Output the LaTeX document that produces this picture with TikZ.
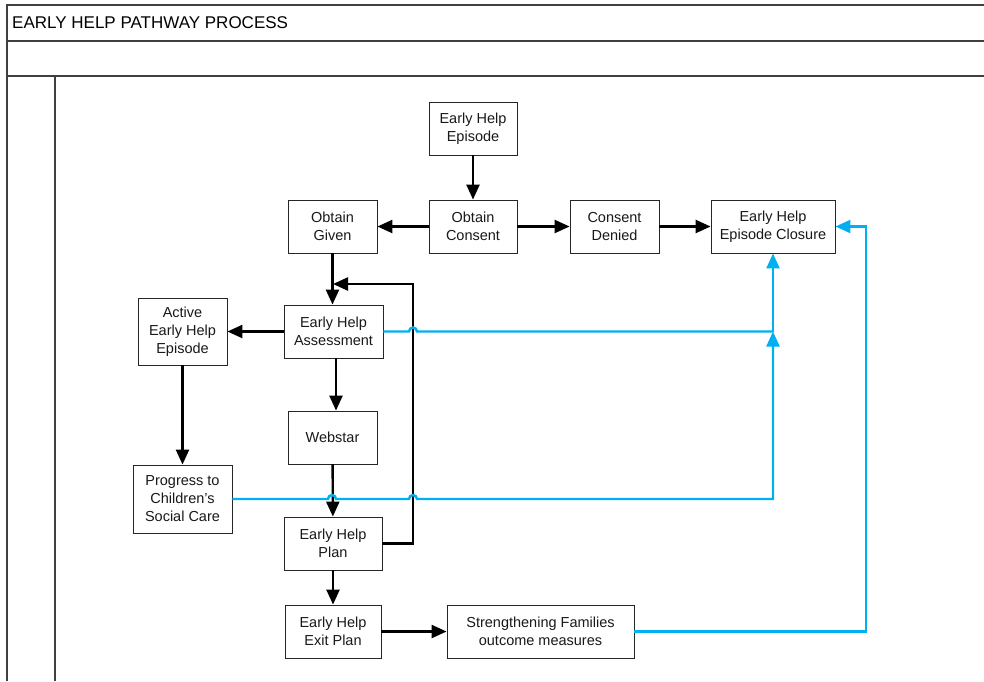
\documentclass[tikz,border=0pt]{standalone}
\usepackage{fontspec}
\setmainfont{Liberation Sans}
\usetikzlibrary{arrows.meta}
\definecolor{hblue}{RGB}{0,176,240}
\tikzset{
  box/.style={draw=black!85, line width=0.9pt, fill=white, align=center, inner sep=0pt,
    font=\fontsize{14.5}{18}\selectfont, text=black!90},
  arr/.style={line width=2.4pt, -{Triangle[length=15pt,width=13pt]}},
  bline/.style={draw=hblue, line width=2.4pt},
  barr/.style={bline, -{Triangle[length=15pt,width=13pt]}},
  frame/.style={draw=black!75, line width=1.5pt}
}
\begin{document}
\begin{tikzpicture}[x=1pt,y=-1pt]
\useasboundingbox (0,0) rectangle (984,681);
% frame
\draw[frame] (984,5) -- (7,5) -- (7,681);
\draw[frame] (7,41) -- (984,41);
\draw[frame] (7,76) -- (984,76);
\draw[frame] (55,76) -- (55,681);
\node[anchor=west, font=\fontsize{17}{20}\selectfont, inner sep=0pt] (title) at (12,23) {EARLY HELP PATHWAY PROCESS};
% nodes
\node[box, minimum width=88pt, minimum height=53pt] (ep) at (473,128.5) {Early Help\\Episode};
\node[box, minimum width=88pt, minimum height=53pt] (oc) at (473,226.5) {Obtain\\Consent};
\node[box, minimum width=89pt, minimum height=53pt] (og) at (332.5,226.5) {Obtain\\Given};
\node[box, minimum width=89pt, minimum height=53pt] (cd) at (614.5,226.5) {Consent\\Denied};
\node[box, minimum width=124pt, minimum height=53pt] (cl) at (773,226.5) {Early Help\\Episode Closure};
\node[box, minimum width=99pt, minimum height=53pt] (as) at (333.5,331.5) {Early Help\\Assessment};
\node[box, minimum width=89pt, minimum height=67pt] (ac) at (182.5,331.5) {Active\\Early Help\\Episode};
\node[box, minimum width=89pt, minimum height=53pt] (wb) at (332.5,437.5) {Webstar};
\node[box, minimum width=99pt, minimum height=68pt] (pr) at (182.5,499) {Progress to\\Children’s\\Social Care};
\node[box, minimum width=98pt, minimum height=53pt] (pl) at (333,543.5) {Early Help\\Plan};
\node[box, minimum width=96pt, minimum height=53pt] (ex) at (333,631.5) {Early Help\\Exit Plan};
\node[box, minimum width=187pt, minimum height=53pt] (sf) at (540.5,631.5) {Strengthening Families\\outcome measures};
% coordinates
\coordinate (fb) at (333,284);
\coordinate (fbc) at (413,284);
\coordinate (fbp) at (413,543.5);
\coordinate (j) at (773,331.5);
\coordinate (sfc) at (866,631.5);
\coordinate (sfu) at (866,226.5);
% black connectors
\draw[arr] (ep) -- (oc);
\draw[arr] (oc) -- (og);
\draw[arr] (oc) -- (cd);
\draw[arr] (cd) -- (cl);
\draw[arr] (og) -- (og.south |- as.north);
\draw[arr] (pl.east) -- (fbp) -- (fbc) -- (fb);
\draw[arr] (as) -- (ac);
\draw[arr] (as.south -| 336,0) -- (wb.north -| 336,0);
\draw[arr] (ac) -- (pr);
\draw[arr] (wb) -- (pl);
\draw[arr] (pl) -- (ex);
\draw[arr] (ex) -- (sf);
% blue connectors
\draw[bline] (as.east) -- (409,331.5) arc[start angle=180,end angle=0,radius=4pt] -- (j);
\draw[barr] (j) -- (cl.south);
\draw[barr] (pr.east) -- (328,499) arc[start angle=180,end angle=0,radius=4pt] -- (409,499) arc[start angle=180,end angle=0,radius=4pt] -- (773,499) -- (j);
\draw[barr] (sf.east) -- (sfc) -- (sfu) -- (cl.east);
\end{tikzpicture}
\end{document}
